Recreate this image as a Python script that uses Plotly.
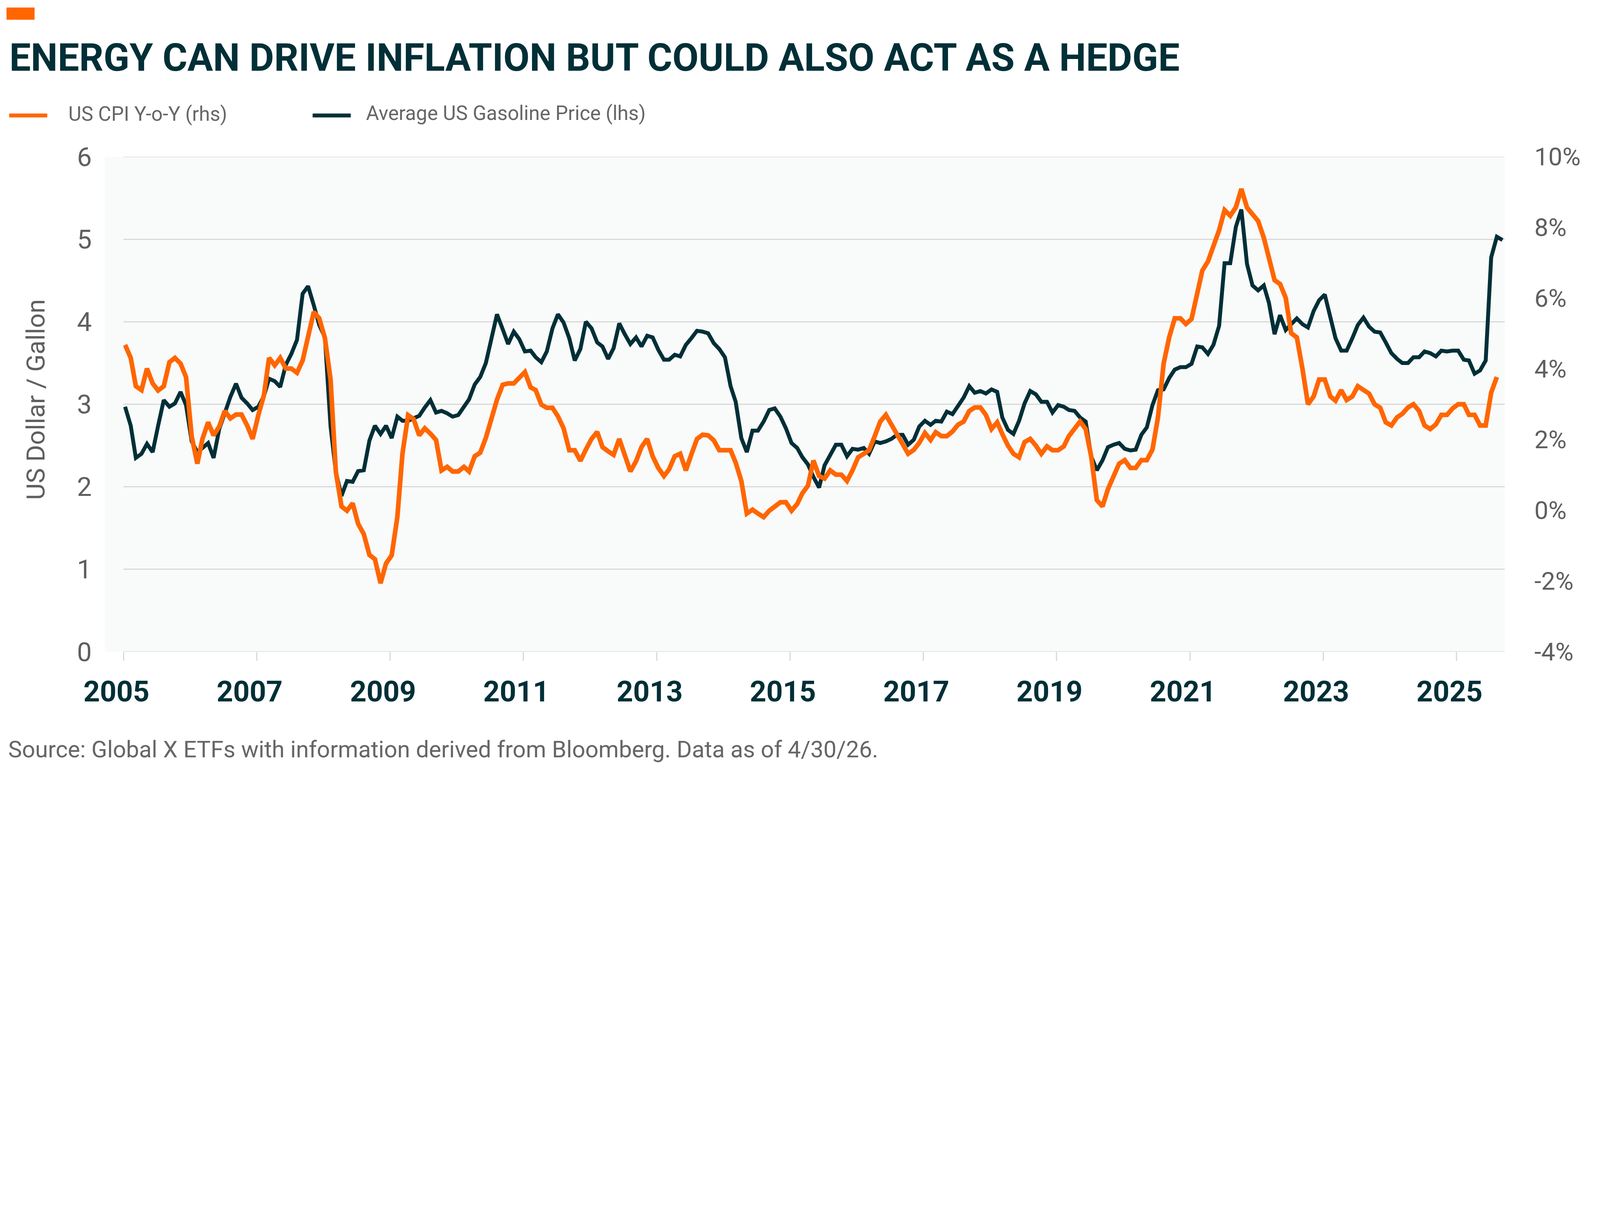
import pandas as pd
import plotly.graph_objects as go

# monthly values, one row per year starting Jan 2005
gas_price = [
    2.97, 2.74, 2.35, 2.40, 2.52, 2.42, 2.74, 3.05, 2.97, 3.01, 3.15, 2.99,
    2.55, 2.42, 2.47, 2.53, 2.35, 2.70, 2.89, 3.09, 3.25, 3.08, 3.01, 2.93,
    2.97, 3.10, 3.31, 3.28, 3.21, 3.48, 3.61, 3.78, 4.34, 4.43, 4.20, 3.96,
    3.81, 2.73, 2.18, 1.89, 2.07, 2.06, 2.19, 2.20, 2.56, 2.74, 2.64, 2.74,
    2.59, 2.85, 2.80, 2.80, 2.83, 2.86, 2.96, 3.05, 2.90, 2.92, 2.89, 2.85,
    2.87, 2.96, 3.06, 3.24, 3.33, 3.50, 3.77, 4.09, 3.91, 3.73, 3.88, 3.79,
    3.64, 3.65, 3.57, 3.51, 3.64, 3.92, 4.09, 3.99, 3.80, 3.53, 3.67, 4.00,
    3.92, 3.75, 3.70, 3.55, 3.68, 3.98, 3.85, 3.73, 3.81, 3.70, 3.83, 3.81,
    3.66, 3.54, 3.54, 3.60, 3.58, 3.72, 3.80, 3.89, 3.88, 3.86, 3.74, 3.67,
    3.57, 3.22, 3.03, 2.59, 2.42, 2.68, 2.68, 2.79, 2.93, 2.95, 2.85, 2.71,
    2.53, 2.47, 2.36, 2.27, 2.12, 1.99, 2.26, 2.39, 2.51, 2.51, 2.37, 2.46,
    2.45, 2.47, 2.40, 2.55, 2.53, 2.55, 2.58, 2.63, 2.63, 2.51, 2.57, 2.73,
    2.80, 2.75, 2.80, 2.79, 2.91, 2.88, 2.97, 3.08, 3.22, 3.14, 3.16, 3.13,
    3.18, 3.15, 2.84, 2.69, 2.64, 2.80, 3.01, 3.16, 3.12, 3.03, 3.03, 2.90,
    2.99, 2.97, 2.93, 2.92, 2.84, 2.79, 2.37, 2.20, 2.32, 2.48, 2.51, 2.53,
    2.46, 2.44, 2.45, 2.63, 2.72, 2.99, 3.17, 3.18, 3.32, 3.42, 3.45, 3.45,
    3.49, 3.70, 3.69, 3.61, 3.72, 3.95, 4.71, 4.71, 5.15, 5.36, 4.70, 4.44,
    4.38, 4.44, 4.23, 3.85, 4.08, 3.90, 3.97, 4.04, 3.97, 3.93, 4.13, 4.26,
    4.33, 4.04, 3.80, 3.65, 3.65, 3.80, 3.96, 4.05, 3.94, 3.88, 3.87, 3.75,
    3.62, 3.55, 3.50, 3.50, 3.57, 3.57, 3.64, 3.62, 3.58, 3.65, 3.64, 3.65,
    3.65, 3.54, 3.53, 3.37, 3.41, 3.53, 4.78, 5.03, 4.99,
]

cpi_yoy = [
    4.68, 4.31, 3.51, 3.40, 4.01, 3.59, 3.39, 3.51, 4.19, 4.31, 4.15, 3.77,
    2.09, 1.32, 2.02, 2.49, 2.12, 2.37, 2.81, 2.60, 2.71, 2.71, 2.40, 2.02,
    2.69, 3.26, 4.31, 4.10, 4.31, 4.01, 4.01, 3.89, 4.24, 4.98, 5.61, 5.43,
    4.87, 3.70, 1.09, 0.11, -0.01, 0.20, -0.38, -0.67, -1.26, -1.38, -2.06, -1.50,
    -1.27, -0.19, 1.60, 2.69, 2.58, 2.12, 2.32, 2.17, 1.99, 1.13, 1.23, 1.10,
    1.10, 1.23, 1.10, 1.53, 1.63, 2.05, 2.63, 3.13, 3.55, 3.59, 3.59, 3.77,
    3.91, 3.48, 3.40, 2.99, 2.90, 2.90, 2.66, 2.32, 1.70, 1.70, 1.40, 1.72,
    2.02, 2.22, 1.79, 1.67, 1.57, 2.02, 1.53, 1.10, 1.39, 1.79, 2.02, 1.53,
    1.20, 0.97, 1.16, 1.53, 1.60, 1.13, 1.58, 2.02, 2.14, 2.12, 1.98, 1.70,
    1.70, 1.70, 1.35, 0.83, -0.09, 0.02, -0.09, -0.19, -0.01, 0.10, 0.23, 0.23,
    -0.01, 0.18, 0.48, 0.70, 1.41, 0.97, 0.90, 1.13, 1.01, 1.01, 0.83, 1.13,
    1.50, 1.60, 1.70, 2.10, 2.51, 2.70, 2.43, 2.17, 1.88, 1.60, 1.71, 1.91,
    2.19, 1.99, 2.21, 2.10, 2.10, 2.23, 2.42, 2.51, 2.81, 2.91, 2.91, 2.70,
    2.30, 2.49, 2.16, 1.83, 1.60, 1.50, 1.93, 2.02, 1.83, 1.60, 1.81, 1.70,
    1.70, 1.81, 2.10, 2.32, 2.51, 2.30, 1.53, 0.29, 0.11, 0.60, 1.01, 1.32,
    1.42, 1.20, 1.20, 1.42, 1.42, 1.72, 2.63, 4.15, 4.90, 5.43, 5.43, 5.27,
    5.41, 6.17, 6.78, 7.04, 7.48, 7.92, 8.49, 8.33, 8.57, 9.09, 8.56, 8.35,
    8.18, 7.71, 7.07, 6.51, 6.40, 6.01, 5.01, 4.89, 4.00, 3.00, 3.22, 3.70,
    3.70, 3.22, 3.10, 3.40, 3.12, 3.22, 3.51, 3.40, 3.30, 3.00, 2.90, 2.49,
    2.40, 2.63, 2.73, 2.91, 3.00, 2.81, 2.40, 2.30, 2.43, 2.70, 2.70, 2.88,
    3.00, 3.00, 2.70, 2.70, 2.40, 2.40, 3.33, 3.77,
]

# right axis ticks, written with a plain hyphen as in the original
rhs_ticks = [-4, -2, 0, 2, 4, 6, 8, 10]
rhs_labels = ["-4%", "-2%", "0%", "2%", "4%", "6%", "8%", "10%"]

gas_dates = pd.date_range("2005-01-01", periods=len(gas_price), freq="MS") + pd.Timedelta(days=9)
cpi_dates = gas_dates[:len(cpi_yoy)]

ORANGE = "#FF6600"
DARK = "#002F37"
GREY = "#5F5F5F"
GRID = "#D9D9D9"
FONT = "Roboto, Liberation Sans, Arial, sans-serif"

# layout is measured in pixels of the 6667x3145 picture; the page seems to be
# shown at 1.6 device pixels per css pixel, so everything is divided by that
S = 1 / 1.6
W, H = 6667, 3145
L, R, T, B = 505, 6163, 641, 2669  # plot area


def px(x):
    return (x - L) / (R - L)


def py(y):
    return (B - y) / (B - T)


def sz(v):
    return v * S


def isz(v):
    return int(round(v * S))


trace_gas = go.Scatter(
    x=gas_dates, y=gas_price, name="Average US Gasoline Price (lhs)",
    mode="lines", line=dict(color=DARK, width=sz(16)), yaxis="y",
)
trace_cpi = go.Scatter(
    x=cpi_dates, y=cpi_yoy, name="US CPI Y-o-Y (rhs)",
    mode="lines", line=dict(color=ORANGE, width=sz(19)), yaxis="y2",
)

fig = go.Figure(data=[trace_gas, trace_cpi])

shapes = [
    # light plot background that runs a little left of the first tick
    dict(type="rect", xref="paper", yref="paper", x0=px(429), x1=1, y0=0, y1=1,
         fillcolor="#F9FAFA", line=dict(width=0), layer="below"),
    # grid lines at the top and bottom of the range
    dict(type="line", xref="paper", yref="y", x0=0, x1=1, y0=6, y1=6,
         line=dict(color=GRID, width=sz(4)), layer="below"),
    dict(type="line", xref="paper", yref="y", x0=0, x1=1, y0=0, y1=0,
         line=dict(color=GRID, width=sz(5)), layer="below"),
    # small orange block top left
    dict(type="rect", xref="paper", yref="paper", x0=px(26), x1=px(141),
         y0=py(80), y1=py(30), fillcolor=ORANGE, line=dict(width=0)),
    # legend lines
    dict(type="line", xref="paper", yref="paper", x0=px(37), x1=px(193),
         y0=py(472), y1=py(472), line=dict(color=ORANGE, width=sz(16))),
    dict(type="line", xref="paper", yref="paper", x0=px(1280), x1=px(1436),
         y0=py(472), y1=py(472), line=dict(color=DARK, width=sz(16))),
]

annotations = [
    dict(text="<b>ENERGY CAN DRIVE INFLATION BUT COULD ALSO ACT AS A HEDGE</b>",
         x=px(34), y=py(236), xanchor="left", yanchor="middle",
         font=dict(family=FONT, size=sz(156), color=DARK)),
    dict(text="US CPI Y-o-Y (rhs)", x=px(276), y=py(466), xanchor="left", yanchor="middle",
         font=dict(family=FONT, size=sz(82), color="#666666")),
    dict(text="Average US Gasoline Price (lhs)", x=px(1495), y=py(462), xanchor="left",
         yanchor="middle", font=dict(family=FONT, size=sz(82), color="#666666")),
    dict(text="US Dollar / Gallon", x=px(146), y=py(1636), textangle=-90,
         xanchor="center", yanchor="middle",
         font=dict(family=FONT, size=sz(105), color=GREY)),
    dict(text="Source: Global X ETFs with information derived from Bloomberg. Data as of 4/30/26.",
         x=px(29), y=py(3068), xanchor="left", yanchor="middle",
         font=dict(family=FONT, size=sz(95), color="#666666")),
]
for a in annotations:
    a.update(xref="paper", yref="paper", showarrow=False)

fig.update_layout(
    width=round(W * S), height=round(H * S),
    margin=dict(l=sz(L), r=sz(W - R), t=sz(T), b=sz(H - B), pad=0),
    paper_bgcolor="white",
    plot_bgcolor="rgba(0,0,0,0)",
    showlegend=False,
    shapes=shapes,
    annotations=annotations,
    xaxis=dict(
        type="date",
        range=["2005-01-01", "2025-09-22"],
        tick0="2005-01-01", dtick="M24", tickformat="%Y",
        showgrid=False, zeroline=False, showline=False,
        ticks="outside", ticklen=sz(35), tickwidth=sz(4), tickcolor=GRID,
        ticklabelshift=isz(-28), ticklabelstandoff=isz(25),
        tickfont=dict(family=FONT, size=sz(118), color=DARK, weight="bold"),
    ),
    yaxis=dict(
        range=[0, 6], dtick=1, tick0=0,
        showgrid=True, gridcolor=GRID, gridwidth=sz(4),
        zeroline=False, showline=False, ticks="",
        ticklabelstandoff=isz(128),
        tickfont=dict(family=FONT, size=sz(108), color=GREY),
    ),
    yaxis2=dict(
        range=[-4, 10], overlaying="y", side="right",
        tickmode="array", tickvals=rhs_ticks, ticktext=rhs_labels,
        showgrid=False, zeroline=False, showline=False, ticks="",
        ticklabelstandoff=isz(120),
        tickfont=dict(family=FONT, size=sz(102), color=GREY),
    ),
)

fig.write_html(
    "out.html",
    config={"displayModeBar": False},
    post_script="document.body.style.margin='0';",
)
